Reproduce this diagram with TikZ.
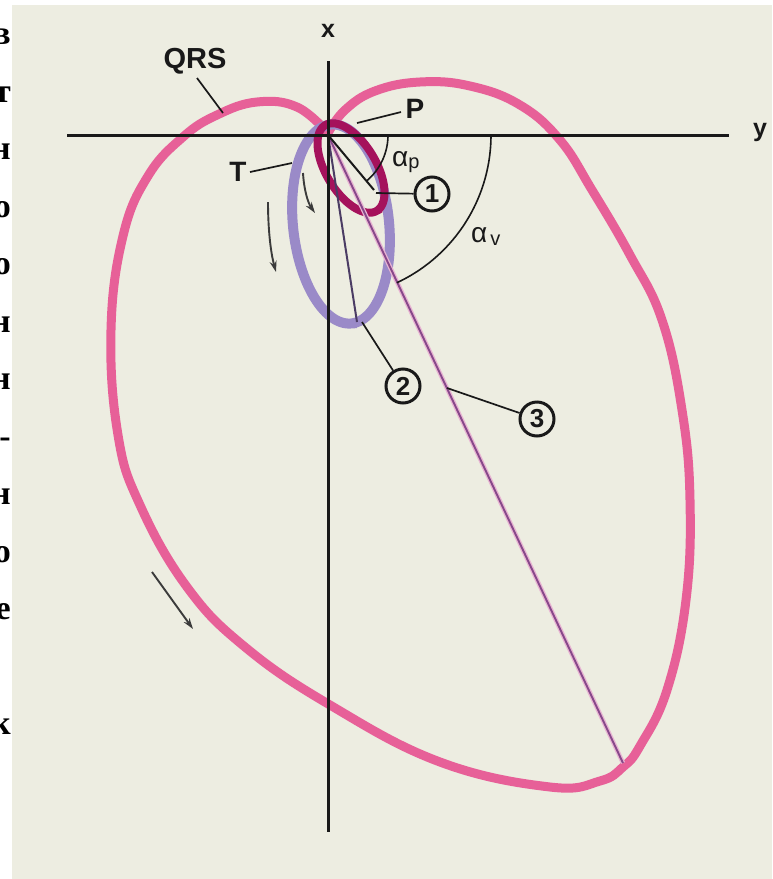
\documentclass[tikz,border=0pt]{standalone}
\usepackage{fontspec}
\setmainfont{Liberation Sans}
\newfontfamily\serifcyr{Liberation Serif}
\usetikzlibrary{arrows.meta}
\definecolor{bg}{RGB}{237,237,225}
\definecolor{qrs}{RGB}{231,96,152}
\definecolor{pwave}{RGB}{165,18,92}
\definecolor{twave}{RGB}{154,138,200}
\definecolor{vecthree}{RGB}{135,72,138}
\definecolor{vechalo}{RGB}{232,180,210}
\definecolor{vectwo}{RGB}{75,60,100}
\definecolor{ink}{RGB}{25,25,25}
\begin{document}
\begin{tikzpicture}[x=1pt,y=-1pt,
  axis/.style={ink,line width=3pt},
  lead/.style={ink,line width=1.7pt},
  lbl/.style={font=\fontsize{28}{28}\selectfont\bfseries,text=ink,inner sep=0pt},
  numc/.style={circle,draw=ink,line width=3pt,minimum size=34pt,inner sep=0pt,
    font=\fontsize{26}{26}\selectfont\bfseries,text=ink},
  flow/.style={ink!85,line width=1.9pt,-{Stealth[length=11pt,width=7pt]}},
  anglearc/.style={ink,line width=1.6pt},
  greek/.style={text=ink,inner sep=0pt,font=\fontsize{28}{28}\selectfont},
  stripchar/.style={anchor=mid east,inner sep=0pt,font=\serifcyr\bfseries\fontsize{34}{34}\selectfont}]
\useasboundingbox (0,0) rectangle (772,879);
\fill[white] (0,0) rectangle (772,879);
\fill[bg] (12,5) rectangle (772,879);
% cut-off page text at the left edge
\begin{scope}
\clip (0,0) rectangle (12,879);
\foreach \yy/\cc in {42/в,100/т,157/н,215/о,272/о,330/н,387/н,445/-,502/н,560/о,617/е,732/к}
  \node[stripchar] (strip\yy) at (11,\yy) {\cc};
\end{scope}

% QRS loop
\draw[qrs,line width=9pt,line join=round,line cap=round] plot[smooth,tension=0.7] coordinates {
(328,133) (297,107) (257,102) (217,115) (183,137) (148,176) (123,236) (111,330)
(118,435) (140,505) (187,587) (245,647) (330,705) (440,762) (550,787) (600,781)
(623,767) (640,746) (667,690) (686,600) (690,500) (682,410) (662,320) (630,255)
(592,190) (560,140) (520,105) (470,86) (420,82) (375,91) (345,110) (328,133)};

% T loop
\draw[twave,line width=10pt] plot[domain=0:360,samples=120,smooth]
  ({341+100*cos(\x)*cos(84)-48*sin(\x)*sin(84)},{224+100*cos(\x)*sin(84)+48*sin(\x)*cos(84)}) -- cycle;
% P loop
\draw[pwave,line width=8pt] plot[domain=0:360,samples=120,smooth]
  ({351+50*cos(\x)*cos(59)-25*sin(\x)*sin(59)},{168+50*cos(\x)*sin(59)+25*sin(\x)*cos(59)}) -- cycle;

% coordinates
\coordinate (O) at (328,135);
\coordinate (xtop) at (328,61);
\coordinate (xbot) at (328,832);
\coordinate (yleft) at (67,135);
\coordinate (yright) at (729,135);
\coordinate (v1end) at (374,190);
\coordinate (v2end) at (357,322);
\coordinate (v3end) at (623,763);

% vectors
\draw[vechalo,line width=4.5pt] (O) -- (v3end);
\draw[vecthree,line width=1.9pt] (O) -- (v3end);
\draw[vectwo,line width=2pt] (O) -- (v2end);
\draw[ink,line width=2pt] (O) -- (v1end);

% axes
\draw[axis] (xtop) -- (xbot);
\draw[axis] (yleft) -- (yright);
\node[lbl,font=\fontsize{25}{25}\selectfont\bfseries] (xlab) at (328,31) {x};
\node[lbl,font=\fontsize{25}{25}\selectfont\bfseries,anchor=mid] (ylab) at (760,134) {y};

% angle arcs
\draw[anglearc] plot[domain=0:50,samples=30,smooth] ({328+60*cos(\x)},{135+60*sin(\x)});
\draw[anglearc] plot[domain=0:65,samples=40,smooth] ({328+163*cos(\x)},{135+163*sin(\x)});
\node[greek,anchor=base west] (ap) at (392,166) {α\raisebox{-2pt}{\fontsize{20}{20}\selectfont p}};
\node[greek,anchor=base west] (av) at (471,242) {α\hspace{3pt}\raisebox{-3pt}{\fontsize{20}{20}\selectfont v}};

% labels with leaders
\node[lbl,font=\fontsize{29}{29}\selectfont\bfseries] (qrslab) at (195,61) {QRS};
\coordinate (qrsA) at (197,78);
\coordinate (qrsB) at (223,113);
\draw[lead] (qrsA) -- (qrsB);
\node[lbl] (plab) at (415,109) {P};
\coordinate (pA) at (401,112);
\coordinate (pB) at (357,123);
\draw[lead] (pA) -- (pB);
\node[lbl] (tlab) at (238,172) {T};
\coordinate (tA) at (250,172);
\coordinate (tB) at (292,163);
\draw[lead] (tA) -- (tB);

% numbered circles
\node[numc] (c1) at (432,194) {1};
\node[numc] (c2) at (403,386) {2};
\node[numc] (c3) at (537,419) {3};
\coordinate (l1) at (376,193);
\coordinate (l2) at (362,322);
\coordinate (l3) at (447,388);
\draw[lead] (l1) -- (c1);
\draw[lead] (l2) -- (c2);
\draw[lead] (l3) -- (c3);

% direction arrows
\coordinate (a1s) at (268,202);
\coordinate (a1e) at (276,272);
\draw[flow] (a1s) .. controls (268,225) and (270,250) .. (a1e);
\coordinate (a2s) at (303,173);
\coordinate (a2e) at (315,213);
\draw[flow] (a2s) .. controls (304,190) and (308,203) .. (a2e);
\coordinate (a3s) at (152,572);
\coordinate (a3e) at (193,629);
\draw[flow] (a3s) -- (a3e);
\end{tikzpicture}
\end{document}
